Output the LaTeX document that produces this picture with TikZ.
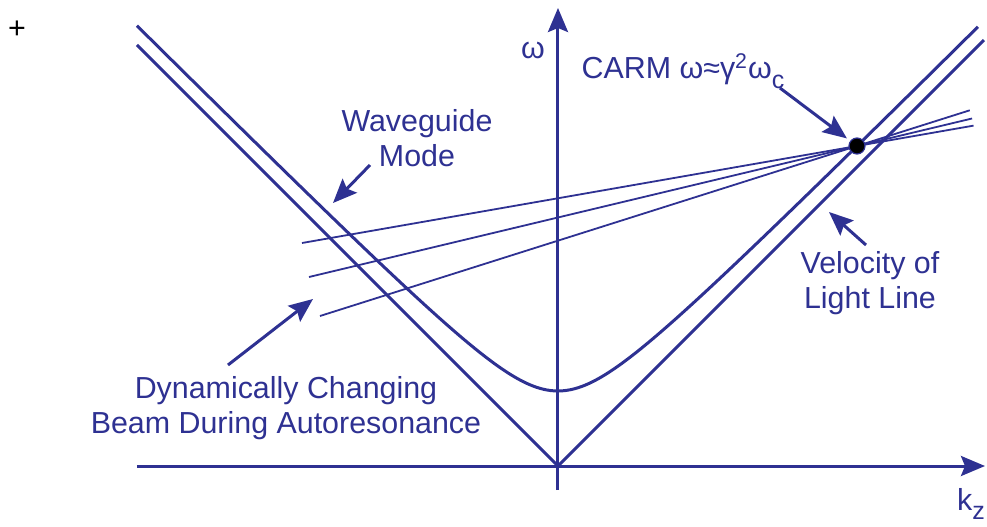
\documentclass[tikz,border=0pt]{standalone}
\usepackage{fontspec}
\setmainfont{Liberation Sans}
\usetikzlibrary{arrows.meta, calc}
\definecolor{plotblue}{RGB}{46,49,146}
\newcommand{\lowsub}[1]{\raisebox{-0.3em}{\fontsize{12.5}{12.5}\selectfont #1}}

\begin{document}
\begin{tikzpicture}[
    x=5pt, y=5pt,
    >={Stealth[length=12pt, width=10pt, inset=2pt]},
    axis/.style={->, draw=plotblue, line width=1.5pt},
    curve/.style={draw=plotblue, line width=1.5pt},
    beam/.style={draw=plotblue, line width=0.9pt},
    callout/.style={->, draw=plotblue, line width=1.5pt},
    lbl/.style={text=plotblue, align=center, inner sep=0pt, font=\fontsize{15.2}{17.5}\selectfont},
]
\useasboundingbox (-55.8,-6.0) rectangle (42.9,46.6);

% === Axes ===
\coordinate (O) at (0,0);
\draw[axis] (-42.1,0) -- (42.7,0);
\draw[axis] (0,-2.4) -- (0,45.8);
\node[lbl] (omega) at (-2.5,41.6) {ω};
\node[lbl] (kz) at (41.3,-3.8) {k\lowsub{z}};

% === Dispersion curves ===
% --- velocity of light line ---
\draw[curve] (-42.1,42.1) -- (O) -- (42.6,42.6);
% --- waveguide mode ---
\draw[curve] plot[domain=-42.1:42, samples=121, smooth] (\x, {1.5+sqrt(36+\x*\x)});

% === Beam lines through the CARM point ===
\coordinate (carmpt) at (29.9,32.0);
\coordinate (b1) at (-25.6,22.3);
\coordinate (b2) at (-24.9,18.9);
\coordinate (b3) at (-23.8,15.0);
\foreach \b in {b1,b2,b3}
    \draw[beam] (\b) -- ($(\b)!1.21!(carmpt)$);
\node[circle, fill=black, draw=plotblue, line width=0.6pt, minimum size=8pt, inner sep=0pt] (carm) at (carmpt) {};

% === Labels and callouts ===
\node[lbl] (carmlbl) at (12.5,39.5) {CARM ω≈γ\textsuperscript{2}ω\lowsub{c}};
\coordinate (carmtail) at (22.2,37.8);
\draw[callout, shorten >=2pt] (carmtail) -- (carm);

\node[lbl] (wglbl) at (-14.1,32.8) {Waveguide\\Mode};
\coordinate (wgtail) at (-18.8,30.1);
\coordinate (wgtip) at (-22.5,26.3);
\draw[callout] (wgtail) -- (wgtip);

\node[lbl] (vllbl) at (31.2,18.3) {Velocity of\\Light Line};
\coordinate (vltail) at (30.8,22.1);
\coordinate (vltip) at (27.1,25.4);
\draw[callout] (vltail) -- (vltip);

\node[lbl] (beamlbl) at (-27.2,5.8) {Dynamically Changing\\Beam During Autoresonance};
\coordinate (beamtail) at (-33.0,10.1);
\coordinate (beamtip) at (-24.5,16.7);
\draw[callout] (beamtail) -- (beamtip);

\node[font=\fontsize{15.2}{17.5}\selectfont, inner sep=0pt] (plus) at (-54.1,43.6) {+};

\end{tikzpicture}
\end{document}
